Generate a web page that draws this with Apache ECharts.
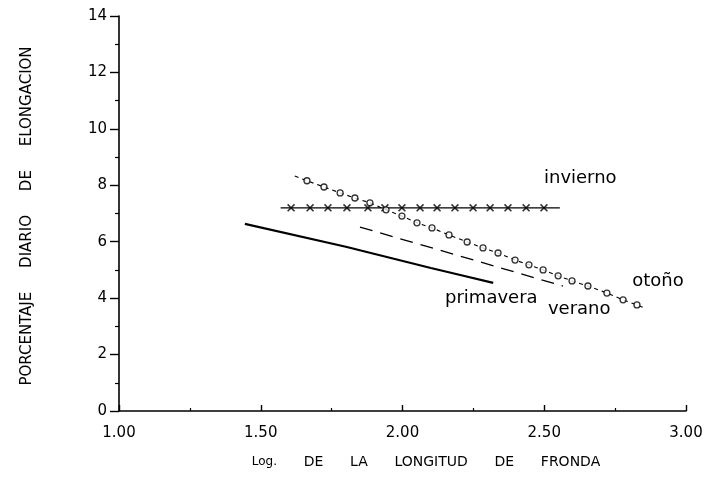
<!DOCTYPE html>
<html>
<head>
<meta charset="utf-8">
<script src="https://cdn.jsdelivr.net/npm/echarts@6/dist/echarts.min.js"></script>
<style>
  html, body { margin: 0; padding: 0; background: #fff; }
  #chart { width: 709px; height: 486px; }
</style>
</head>
<body>
<div id="chart"></div>
<script>
// invierno: x marks on a flat line
const invX = [1.607, 1.674, 1.737, 1.804, 1.878, 1.938, 1.998, 2.062, 2.122, 2.185, 2.249, 2.309, 2.372, 2.436, 2.499];
const invY = [7.2, 7.2, 7.2, 7.2, 7.2, 7.2, 7.2, 7.2, 7.2, 7.2, 7.2, 7.2, 7.2, 7.2, 7.2];
const invLineX = [1.57, 2.555];
const invLineY = [7.2, 7.2];

// otoño: circles on a dashed line
const otoX = [1.663, 1.723, 1.780, 1.832, 1.885, 1.942, 1.998, 2.051, 2.104, 2.164, 2.228,
              2.284, 2.337, 2.397, 2.446, 2.496, 2.549, 2.598, 2.654, 2.721, 2.778, 2.827];
const otoY = [8.16, 7.94, 7.73, 7.55, 7.38, 7.13, 6.91, 6.67, 6.49, 6.24, 5.99,
              5.78, 5.60, 5.35, 5.18, 5.00, 4.79, 4.61, 4.43, 4.18, 3.94, 3.76];
const otoLineX = [1.62].concat(otoX, [2.86]);
const otoLineY = [8.33].concat(otoY, [3.62]);

// primavera: solid line
const primX = [1.444, 1.80, 2.10, 2.20, 2.32];
const primY = [6.63, 5.82, 5.07, 4.83, 4.54];

// verano: long dashed line
const verX = [1.85, 2.566];
const verY = [6.52, 4.43];

// curve labels
const labelNames = ['invierno', 'otoño', 'primavera', 'verano'];
const labelX = [2.499, 2.81, 2.15, 2.513];
const labelY = [8.26, 4.61, 4.0, 3.62];

// axis ticks
const xTicks = [1.0, 1.5, 2.0, 2.5, 3.0];
const yTicks = [0, 2, 4, 6, 8, 10, 12, 14];

const pairs = (xs, ys) => xs.map((x, i) => [x, ys[i]]);
const FONT = 'DejaVu Sans';
const crossPath = 'path://M0,1.4L1.4,0L5,3.6L8.6,0L10,1.4L6.4,5L10,8.6L8.6,10L5,6.4L1.4,10L0,8.6L3.6,5Z';

const chart = echarts.init(document.getElementById('chart'));
chart.setOption({
  backgroundColor: '#fff',
  animation: false,
  grid: { left: 119, right: 23, top: 16, bottom: 75 },
  xAxis: {
    type: 'value',
    min: xTicks[0],
    max: xTicks[xTicks.length - 1],
    interval: 0.5,
    axisLine: { lineStyle: { color: '#000', width: 1.6 } },
    axisTick: { inside: true, length: 6, lineStyle: { color: '#000', width: 1.4 } },
    minorTick: { show: true, splitNumber: 2, length: 3, lineStyle: { color: '#000', width: 1.2 } },
    splitLine: { show: false },
    axisLabel: { color: '#000', fontFamily: FONT, fontSize: 15, margin: 15,
      formatter: v => v.toFixed(2) }
  },
  yAxis: {
    type: 'value',
    min: yTicks[0],
    max: yTicks[yTicks.length - 1],
    interval: 2,
    axisLine: { lineStyle: { color: '#000', width: 1.6 } },
    axisTick: { length: 9, lineStyle: { color: '#000', width: 1.4 } },
    minorTick: { show: true, splitNumber: 2, length: 4, lineStyle: { color: '#000', width: 1.2 } },
    splitLine: { show: false },
    axisLabel: { color: '#000', fontFamily: FONT, fontSize: 15, margin: 12 }
  },
  graphic: [
    {
      type: 'text', x: 27, y: 216, rotation: Math.PI / 2,
      style: { text: 'PORCENTAJE     DIARIO     DE     ELONGACION', fill: '#000',
        font: '15px "DejaVu Sans"', textAlign: 'center', textVerticalAlign: 'middle' }
    },
    {
      type: 'text', x: 426, y: 462,
      style: {
        text: '{s|Log.}      DE      LA      LONGITUD      DE      FRONDA',
        fill: '#000', font: '14px "DejaVu Sans"', textAlign: 'center', textVerticalAlign: 'middle',
        rich: { s: { font: '12px "DejaVu Sans"', fill: '#000' } }
      }
    }
  ],
  series: [
    {
      name: 'invierno-linea', type: 'line', data: pairs(invLineX, invLineY),
      showSymbol: false, lineStyle: { color: '#000', width: 1.2 }
    },
    {
      name: 'invierno', type: 'scatter', data: pairs(invX, invY),
      symbol: crossPath, symbolSize: 8, itemStyle: { color: '#000' }, z: 4
    },
    {
      name: 'otoño-linea', type: 'line', data: pairs(otoLineX, otoLineY),
      showSymbol: false, lineStyle: { color: '#000', width: 1.1, type: [4, 4] }
    },
    {
      name: 'otoño', type: 'scatter', data: pairs(otoX, otoY),
      symbol: 'circle', symbolSize: 6,
      itemStyle: { color: '#fff', borderColor: '#000', borderWidth: 1.3 }, z: 5
    },
    {
      name: 'primavera', type: 'line', data: pairs(primX, primY),
      showSymbol: false, lineStyle: { color: '#000', width: 2.2 }
    },
    {
      name: 'verano', type: 'line', data: pairs(verX, verY),
      showSymbol: false, lineStyle: { color: '#000', width: 1.3, type: [13, 8] }
    },
    {
      name: 'etiquetas', type: 'scatter', symbolSize: 0,
      data: labelNames.map((n, i) => ({ name: n, value: [labelX[i], labelY[i]] })),
      label: {
        show: true, position: 'right', distance: 0, formatter: '{b}',
        color: '#000', opacity: 1, textBorderWidth: 0, fontFamily: FONT, fontSize: 18
      },
      itemStyle: { opacity: 1 },
      z: 6
    }
  ]
});
</script>
</body>
</html>
